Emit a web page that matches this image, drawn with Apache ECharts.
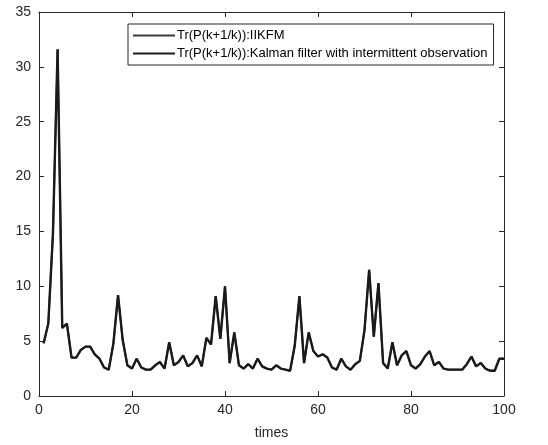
<!DOCTYPE html>
<html>
<head>
<meta charset="utf-8">
<script src="https://cdn.jsdelivr.net/npm/echarts@6/dist/echarts.min.js"></script>
<style>html,body{margin:0;padding:0;background:#fff}#c{width:548px;height:445px}</style>
</head>
<body>
<div id="c"></div>
<script>
var seriesNames = ['Tr(P(k+1/k)):IIKFM', 'Tr(P(k+1/k)):Kalman filter with intermittent observation'];
var times = [];
for (var i = 1; i <= 100; i++) times.push(i);
var iikfm = [4.8,6.6,14.8,31.6,6.2,6.6,3.5,3.5,4.2,4.5,
             4.5,3.8,3.4,2.6,2.4,4.8,9.2,5.1,2.8,2.5,
             3.4,2.6,2.4,2.4,2.8,3.1,2.5,4.9,2.8,3.1,
             3.7,2.7,3.0,3.7,2.7,5.3,4.7,9.1,5.2,10.0,
             3.0,5.8,2.8,2.5,2.9,2.5,3.4,2.7,2.5,2.4,
             2.8,2.5,2.4,2.3,4.6,9.1,3.0,5.8,4.1,3.6,
             3.8,3.5,2.6,2.4,3.4,2.7,2.4,2.9,3.2,6.0,
             11.5,5.4,10.3,3.0,2.5,4.9,2.8,3.7,4.1,2.8,
             2.5,2.9,3.6,4.1,2.8,3.1,2.5,2.4,2.4,2.4,
             2.4,2.9,3.6,2.7,3.0,2.5,2.3,2.3,3.4,3.4];
var kalman = [4.8,6.6,14.8,31.6,6.2,6.6,3.5,3.5,4.2,4.5,
             4.5,3.8,3.4,2.6,2.4,4.8,9.2,5.1,2.8,2.5,
             3.4,2.6,2.4,2.4,2.8,3.1,2.5,4.9,2.8,3.1,
             3.7,2.7,3.0,3.7,2.7,5.3,4.7,9.1,5.2,10.0,
             3.0,5.8,2.8,2.5,2.9,2.5,3.4,2.7,2.5,2.4,
             2.8,2.5,2.4,2.3,4.6,9.1,3.0,5.8,4.1,3.6,
             3.8,3.5,2.6,2.4,3.4,2.7,2.4,2.9,3.2,6.0,
             11.5,5.4,10.3,3.0,2.5,4.9,2.8,3.7,4.1,2.8,
             2.5,2.9,3.6,4.1,2.8,3.1,2.5,2.4,2.4,2.4,
             2.4,2.9,3.6,2.7,3.0,2.5,2.3,2.3,3.4,3.4];
var xTicks = [0, 20, 40, 60, 80, 100];
var yTicks = [0, 5, 10, 15, 20, 25, 30, 35];

function pairs(xs, ys) { return xs.map(function (x, i) { return [x, ys[i]]; }); }

var font = 'Liberation Sans, Arial, Helvetica, sans-serif';
var axisCol = '#262626';
var chart = echarts.init(document.getElementById('c'), null, {renderer: 'canvas'});
var axLine = {show: true, onZero: false, lineStyle: {color: axisCol, width: 1}};
var axTick = {show: true, inside: true, length: 5, lineStyle: {color: axisCol, width: 1}};
chart.setOption({
  animation: false,
  backgroundColor: '#fff',
  grid: {left: 39, right: 44, top: 12, bottom: 47, containLabel: false},
  legend: {
    orient: 'vertical', left: 128, top: 24,
    padding: [5, 6, 5, 5], itemGap: 5,
    itemWidth: 42, itemHeight: 2,
    borderColor: axisCol, borderWidth: 1, backgroundColor: '#fff',
    icon: 'rect',
    textStyle: {fontFamily: font, fontSize: 13, color: '#000', padding: [0, 0, 0, -3]},
    data: seriesNames
  },
  xAxis: [{
    type: 'value', min: xTicks[0], max: xTicks[xTicks.length - 1], interval: 20,
    name: 'times', nameLocation: 'middle', nameGap: 30,
    nameTextStyle: {fontFamily: font, fontSize: 14, color: axisCol},
    axisLine: axLine, axisTick: axTick, splitLine: {show: false},
    axisLabel: {fontFamily: font, fontSize: 14, color: axisCol, margin: 7}
  }, {
    type: 'value', position: 'top', min: 0, max: 100, interval: 20,
    axisLine: axLine, axisTick: axTick, splitLine: {show: false}, axisLabel: {show: false}
  }],
  yAxis: [{
    type: 'value', min: yTicks[0], max: yTicks[yTicks.length - 1], interval: 5,
    axisLine: axLine, axisTick: axTick, splitLine: {show: false},
    axisLabel: {fontFamily: font, fontSize: 14, color: axisCol, margin: 8}
  }, {
    type: 'value', position: 'right', min: 0, max: 35, interval: 5,
    axisLine: axLine, axisTick: axTick, splitLine: {show: false}, axisLabel: {show: false}
  }],
  series: [{
    name: seriesNames[0], type: 'line', symbol: 'none', xAxisIndex: 0, yAxisIndex: 0,
    data: pairs(times, iikfm), itemStyle: {color: '#3a3a3a'},
    lineStyle: {color: '#3a3a3a', width: 1.8}
  }, {
    name: seriesNames[1], type: 'line', symbol: 'none', xAxisIndex: 0, yAxisIndex: 0,
    data: pairs(times, kalman), itemStyle: {color: '#1a1a1a'},
    lineStyle: {color: '#1a1a1a', width: 2.4}
  }]
});
</script>
</body>
</html>
